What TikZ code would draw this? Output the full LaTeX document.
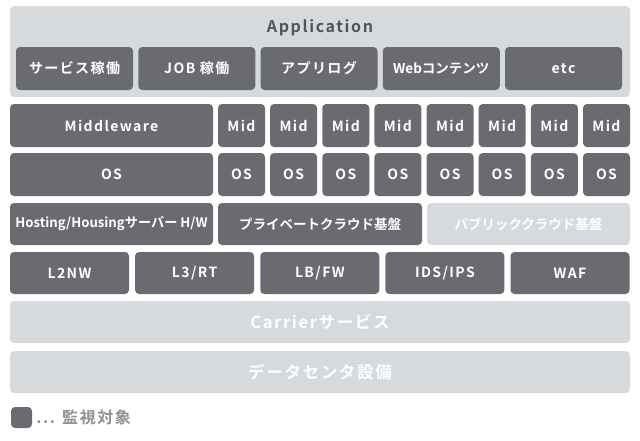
\documentclass[tikz,border=0pt]{standalone}
\usepackage{fontspec}
\setmainfont{Noto Sans CJK JP}[BoldFont={Noto Sans CJK JP Bold}]
\newfontfamily\monwide{Noto Sans CJK JP Bold}[LetterSpace=10]
\newfontfamily\monbold{Noto Sans CJK JP Bold}
\usetikzlibrary{positioning}
\definecolor{mongrey}{HTML}{696B70}
\definecolor{monpale}{HTML}{D6DADD}
\definecolor{montext}{HTML}{50545A}
\definecolor{monnote}{HTML}{8C8F94}

\begin{document}
\begin{tikzpicture}[x=1pt,y=-1pt,
  blk/.style={fill=mongrey,rounded corners=4pt,text=white,inner sep=0pt,
    font=\monwide\fontsize{14}{16}\selectfont},
  pale/.style={blk,fill=monpale},
  tight/.style={font=\monbold\fontsize{13.5}{15}\selectfont},
  midbox/.style={blk,minimum width=47pt,minimum height=43pt},
  netbox/.style={blk,minimum width=119pt,minimum height=42pt},
  appbox/.style={blk,minimum width=117pt,minimum height=43pt}]
\useasboundingbox (0,0) rectangle (640,440);
% application layer
\node[pale,minimum width=620pt,minimum height=91pt] (app) at (320,51.5) {};
\node[text=montext,font=\monwide\fontsize{16}{18}\selectfont] (apptitle) at (320,28) {Application};
\node[appbox] (svc) at (74.5,68.5) {サービス稼働};
\node[appbox] (job) at (196.75,68.5) {JOB 稼働};
\node[appbox] (applog) at (319,68.5) {アプリログ};
\node[appbox,tight] (web) at (441.25,68.5) {Webコンテンツ};
\node[appbox] (etc) at (563.5,68.5) {etc};
% middleware
\node[blk,minimum width=203pt,minimum height=43pt] (mw) at (111.5,125.5) {Middleware};
\node[midbox] (mid1) at (241.5,125.5) {Mid};
\node[midbox] (mid2) at (293.6,125.5) {Mid};
\node[midbox] (mid3) at (345.8,125.5) {Mid};
\node[midbox] (mid4) at (397.9,125.5) {Mid};
\node[midbox] (mid5) at (450.1,125.5) {Mid};
\node[midbox] (mid6) at (502.2,125.5) {Mid};
\node[midbox] (mid7) at (554.4,125.5) {Mid};
\node[midbox] (mid8) at (606.5,125.5) {Mid};
% os
\node[blk,minimum width=203pt,minimum height=43pt] (os) at (111.5,174.5) {OS};
\node[midbox] (os1) at (241.5,174.5) {OS};
\node[midbox] (os2) at (293.6,174.5) {OS};
\node[midbox] (os3) at (345.8,174.5) {OS};
\node[midbox] (os4) at (397.9,174.5) {OS};
\node[midbox] (os5) at (450.1,174.5) {OS};
\node[midbox] (os6) at (502.2,174.5) {OS};
\node[midbox] (os7) at (554.4,174.5) {OS};
\node[midbox] (os8) at (606.5,174.5) {OS};
% hardware / cloud base
\node[blk,minimum width=203pt,minimum height=42pt,font=\monbold\fontsize{13.2}{15}\selectfont] (hosting) at (111.5,224) {Hosting/Housingサーバー H/W};
\node[blk,tight,minimum width=204pt,minimum height=42pt] (private) at (320,224) {プライベートクラウド基盤};
\node[pale,tight,minimum width=203pt,minimum height=42pt] (public) at (528.5,224) {パブリッククラウド基盤};
% network
\node[netbox] (l2nw) at (69.5,273) {L2NW};
\node[netbox] (l3rt) at (194.6,273) {L3/RT};
\node[netbox] (lbfw) at (319.8,273) {LB/FW};
\node[netbox] (idsips) at (444.9,273) {IDS/IPS};
\node[netbox] (waf) at (570,273) {WAF};
% not monitored
\node[pale,minimum width=620pt,minimum height=42pt,font=\monwide\fontsize{16.5}{18}\selectfont] (carrier) at (320,322) {Carrierサービス};
\node[pale,minimum width=620pt,minimum height=42pt,font=\monwide\fontsize{16.5}{18}\selectfont] (dc) at (320,372) {データセンタ設備};
% legend
\node[blk,minimum size=21pt] (key) at (21.5,417.5) {};
\node[text=monnote,font=\monwide\fontsize{16}{18}\selectfont,right=4pt of key,inner sep=0pt] (keytext) {... 監視対象};
\end{tikzpicture}
\end{document}
